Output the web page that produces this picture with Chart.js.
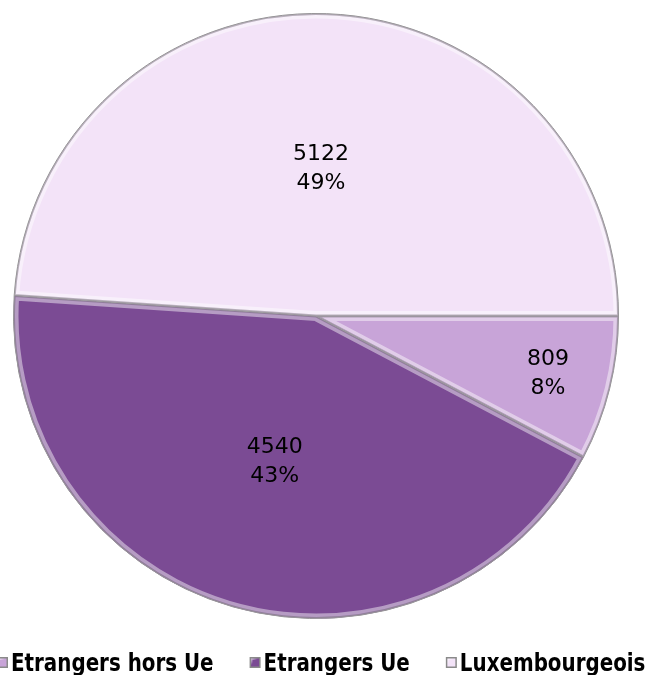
<!DOCTYPE html>
<html>
<head>
<meta charset="utf-8">
<script src="https://cdn.jsdelivr.net/npm/chart.js@4/dist/chart.umd.min.js"></script>
<style>
  html, body { margin: 0; padding: 0; background: #fff; overflow: hidden; }
  #wrap { position: relative; width: 646px; height: 675px; }
</style>
</head>
<body>
<div id="wrap"><canvas id="pie"></canvas></div>
<script>
// categories & values (same order as the legend)
const categories = ['Etrangers hors Ue', 'Etrangers Ue', 'Luxembourgeois'];
const counts = [809, 4540, 5122];
const sliceColors = ['#c8a4d8', '#7b4b94', '#f3e3f8'];

const total = counts.reduce((a, b) => a + b, 0);

// draws a light inner edge + thin grey outline on every slice (the bevel look)
const bevelPlugin = {
  id: 'bevel',
  afterDatasetsDraw(chart) {
    const ctx = chart.ctx;
    chart.getDatasetMeta(0).data.forEach(arc => {
      const { x, y, startAngle, endAngle, outerRadius } = arc;
      ctx.save();
      ctx.beginPath();
      ctx.moveTo(x, y);
      ctx.arc(x, y, outerRadius, startAngle, endAngle);
      ctx.closePath();
      ctx.clip();
      ctx.lineJoin = 'round';
      ctx.strokeStyle = 'rgba(255,255,255,0.45)';
      ctx.lineWidth = 10;
      ctx.stroke();
      ctx.strokeStyle = 'rgba(90,80,95,0.4)';
      ctx.lineWidth = 3;
      ctx.stroke();
      ctx.restore();
    });
  }
};

// value + percent written inside each slice
const sliceLabels = {
  id: 'sliceLabels',
  afterDraw(chart, args, opts) {
    const ctx = chart.ctx;
    chart.getDatasetMeta(0).data.forEach((arc, i) => {
      const mid = (arc.startAngle + arc.endAngle) / 2;
      const r = arc.outerRadius * opts.radial[i];
      const px = arc.x + Math.cos(mid) * r;
      const py = arc.y + Math.sin(mid) * r;
      const v = counts[i];
      ctx.save();
      ctx.fillStyle = '#000';
      ctx.font = '22px "DejaVu Sans", sans-serif';
      ctx.textAlign = 'center';
      ctx.textBaseline = 'middle';
      ctx.fillText(String(v), px, py - 14);
      ctx.fillText(Math.round(v / total * 100) + '%', px, py + 15);
      ctx.restore();
    });
  }
};

// single-row legend under the pie, condensed bold text, runs past both edges like the original
const rowLegend = {
  id: 'rowLegend',
  afterDraw(chart, args, opts) {
    const ctx = chart.ctx;
    ctx.save();
    ctx.font = 'bold 24px "DejaVu Sans Condensed", "DejaVu Sans", sans-serif';
    ctx.textBaseline = 'alphabetic';
    let x = opts.left;
    categories.forEach((name, i) => {
      const box = opts.box, top = opts.baseline - 14;
      const g = ctx.createLinearGradient(x, top, x + box, top + box);
      g.addColorStop(0, '#ffffff');
      g.addColorStop(0.45, sliceColors[i]);
      g.addColorStop(1, sliceColors[i]);
      ctx.fillStyle = '#8a8a8a';
      ctx.fillRect(x, top, box, box);
      ctx.fillStyle = g;
      ctx.fillRect(x + 1.5, top + 1.5, box - 3, box - 3);
      ctx.fillStyle = sliceColors[i];
      ctx.fillRect(x + 3, top + 3, box - 6, box - 6);
      x += box + opts.gap;
      ctx.save();
      ctx.translate(x, opts.baseline);
      ctx.scale(opts.squeeze, 1);
      ctx.fillStyle = '#000';
      ctx.fillText(name, 0, 0);
      ctx.restore();
      x += ctx.measureText(name).width * opts.squeeze + opts.spacing;
    });
    ctx.restore();
  }
};

new Chart(document.getElementById('pie'), {
  type: 'pie',
  data: {
    labels: categories,
    datasets: [{
      data: counts,
      backgroundColor: sliceColors,
      borderColor: '#8c8c8c',
      borderWidth: 1,
      hoverOffset: 0
    }]
  },
  options: {
    responsive: true,
    maintainAspectRatio: false,
    animation: false,
    rotation: 90,
    layout: { padding: { top: 13, bottom: 56, left: 0, right: 14 } },
    plugins: {
      tooltip: { enabled: false },
      legend: { display: false },
      sliceLabels: { radial: [0.79, 0.5, 0.49] },
      rowLegend: { left: -3, baseline: 671, box: 11, gap: 3, spacing: 36, squeeze: 0.92 }
    }
  },
  plugins: [bevelPlugin, sliceLabels, rowLegend]
});
</script>
</body>
</html>
